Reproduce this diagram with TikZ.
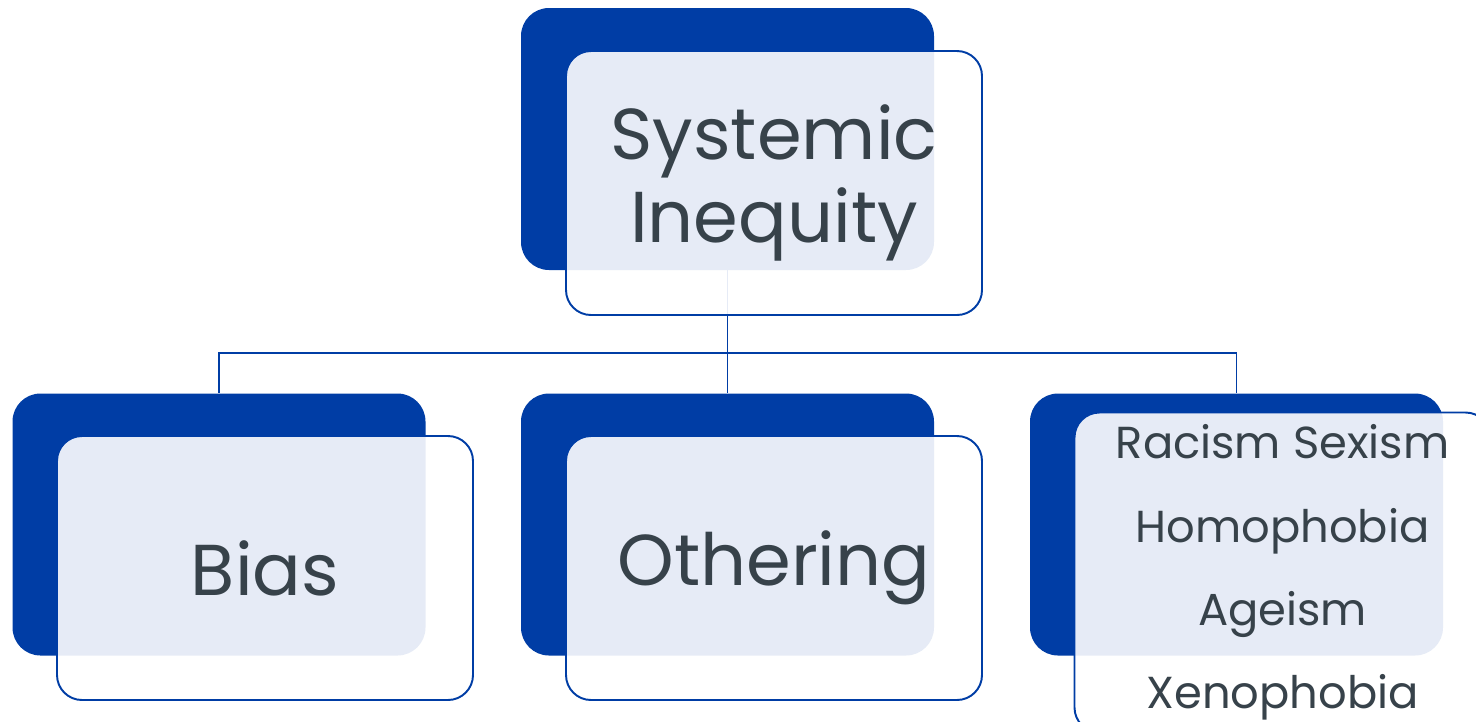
\documentclass[tikz,border=0pt]{standalone}
\usepackage{fontspec}
\setmainfont{Poppins}
\usetikzlibrary{positioning}

\definecolor{deepblue}{RGB}{0,61,165}
\definecolor{slate}{RGB}{55,66,74}

\tikzset{
  backbox/.style={fill=deepblue, rounded corners=0.56cm, minimum width=8.26cm, minimum height=5.24cm, inner sep=0pt},
  frontbox/.style={draw=deepblue, line width=1.1pt, fill=white, fill opacity=0.9, text opacity=1, text=slate, rounded corners=0.5cm, minimum width=8.32cm, minimum height=5.28cm, align=center, inner sep=0pt},
  bigtext/.style={font=\fontsize{41}{47}\selectfont},
  listtext/.style={font=\fontsize{25.5}{47.5}\selectfont},
  link/.style={draw=deepblue, line width=1.1pt}
}

\begin{document}
\begin{tikzpicture}[scale=1]
        \useasboundingbox (0,0) rectangle (29.52,-14.42);
        % back boxes
        \node[backbox] (topback) at (14.55,-2.78) {};
        \node[backbox] (biasback) at (4.38,-10.49) {};
        \node[backbox] (otherback) at (14.55,-10.49) {};
        \node[backbox] (ismback) at (24.73,-10.49) {};
        % connectors
        \draw[link] (topback.south) -- ++(0,-1.66) coordinate (split) -| (biasback.north);
        \draw[link] (split) -| (ismback.north);
        \draw[link] (split) -- (otherback.north);
        % front boxes
        \node[frontbox, bigtext] (top) at (15.48,-3.66) {Systemic\\Inequity};
        \node[frontbox, bigtext] (bias) at (5.3,-11.36) {Bias};
        \node[frontbox, bigtext] (other) at (15.48,-11.36) {Othering};
        \node[frontbox, listtext, minimum height=6.4cm] (ism) at (25.65,-11.45) {Racism Sexism\\Homophobia\\Ageism\\Xenophobia};
\end{tikzpicture}
\end{document}
